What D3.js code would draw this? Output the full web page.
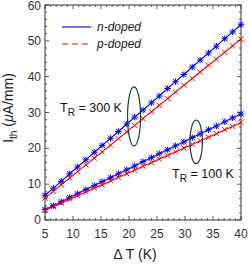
<!DOCTYPE html>
<html>
<head>
<meta charset="utf-8">
<script src="https://cdn.jsdelivr.net/npm/d3@7"></script>
<style>
  body { margin: 0; background: #fff; }
  text { font-family: "Liberation Sans", Arial, sans-serif; }
</style>
</head>
<body>
<svg width="249" height="264"></svg>
<script>
// data
const deltaT = [5, 6.5, 7.9, 9.4, 10.8, 12.3, 13.8, 15.2, 16.7, 18.1, 19.6, 21, 22.5,
  24, 25.4, 26.9, 28.3, 29.8, 31.3, 32.7, 34.2, 35.6, 37.1, 38.5, 40];
const n300 = [6.9, 8.9, 10.8, 12.9, 14.8, 16.8, 18.9, 20.8, 22.8, 24.7, 26.8, 28.7, 30.7,
  32.7, 34.6, 36.7, 38.6, 40.6, 42.7, 44.6, 46.6, 48.5, 50.6, 52.5, 54.5];
const p300 = [6.1, 8.0, 9.8, 11.7, 13.5, 15.4, 17.3, 19.0, 20.9, 22.7, 24.6, 26.4, 28.3,
  30.2, 32.0, 33.9, 35.7, 37.6, 39.5, 41.3, 43.2, 44.9, 46.8, 48.6, 50.5];
const n100 = [2.9, 4.0, 5.1, 6.3, 7.3, 8.5, 9.6, 10.7, 11.8, 12.9, 14.0, 15.1, 16.3,
  17.4, 18.5, 19.6, 20.7, 21.8, 23.0, 24.0, 25.2, 26.2, 27.4, 28.5, 29.6];
const p100 = [2.7, 3.8, 4.7, 5.8, 6.8, 7.8, 8.9, 9.8, 10.9, 11.9, 12.9, 13.9, 15.0,
  16.0, 17.0, 18.0, 19.0, 20.1, 21.1, 22.1, 23.1, 24.1, 25.2, 26.1, 27.2];
const xTicks = [5, 10, 15, 20, 25, 30, 35, 40];
const yTicks = [0, 10, 20, 30, 40, 50, 60];

const margin = {left: 45, right: 8, top: 5, bottom: 44};
const width = 249, height = 264;
const svg = d3.select("svg");

const x = d3.scaleLinear().domain([5, 40]).range([margin.left, width - margin.right]);
const y = d3.scaleLinear().domain([0, 60]).range([height - margin.bottom, margin.top]);

const axisColor = "#333";

// frame
svg.append("rect")
  .attr("x", x(5)).attr("y", y(60))
  .attr("width", x(40) - x(5)).attr("height", y(0) - y(60))
  .attr("fill", "none").attr("stroke", axisColor).attr("stroke-width", 1);

// minor + major ticks, pointing inward on all four sides
const xMinor = d3.range(5, 40.01, 1);
const yMinor = d3.range(0, 60.01, 2);
const tickG = svg.append("g").attr("stroke", axisColor).attr("stroke-width", 0.8);
xMinor.forEach(v => {
  let len = xTicks.includes(v) ? 4 : 2;
  tickG.append("line").attr("x1", x(v)).attr("x2", x(v)).attr("y1", y(0)).attr("y2", y(0) - len);
  tickG.append("line").attr("x1", x(v)).attr("x2", x(v)).attr("y1", y(60)).attr("y2", y(60) + len);
});
yMinor.forEach(v => {
  let len = yTicks.includes(v) ? 4 : 2;
  tickG.append("line").attr("x1", x(5)).attr("x2", x(5) + len).attr("y1", y(v)).attr("y2", y(v));
  tickG.append("line").attr("x1", x(40)).attr("x2", x(40) - len).attr("y1", y(v)).attr("y2", y(v));
});

// tick labels
svg.append("g").selectAll("text")
  .data(xTicks).join("text")
  .attr("x", d => x(d)).attr("y", y(0) + 18)
  .attr("text-anchor", "middle").attr("font-size", 12).attr("fill", "#333")
  .text(d => d);
svg.append("g").selectAll("text")
  .data(yTicks).join("text")
  .attr("x", x(5) - 4).attr("y", d => Math.max(y(d) + 4, 10))
  .attr("text-anchor", "end").attr("font-size", 12).attr("fill", "#333")
  .text(d => d);

// axis titles
svg.append("text")
  .attr("x", 135).attr("y", 259)
  .attr("text-anchor", "middle").attr("font-size", 14).attr("fill", "#222")
  .text("\u0394 T (K)");

const yl = svg.append("text")
  .attr("transform", "translate(13, 108) rotate(-90)")
  .attr("text-anchor", "middle").attr("font-size", 14).attr("fill", "#222");
yl.append("tspan").text("I");
yl.append("tspan").attr("font-size", 10).attr("dy", 4).text("th");
yl.append("tspan").attr("dy", -4).text(" (");
yl.append("tspan").attr("font-style", "italic").text("\u03bc");
yl.append("tspan").text("A/mm)");

// series
const series = [
  {vals: n300, color: "#0000ff", marker: "star"},
  {vals: p300, color: "#ff0000", marker: "x"},
  {vals: n100, color: "#0000ff", marker: "star"},
  {vals: p100, color: "#ff0000", marker: "x"}
];

const line = d3.line().x(d => x(d[0])).y(d => y(d[1]));

series.forEach(s => {
  const pts = deltaT.map((t, i) => [t, s.vals[i]]);
  svg.append("path")
    .datum(pts)
    .attr("d", line)
    .attr("fill", "none")
    .attr("stroke", s.color)
    .attr("stroke-width", 1.1);
  const mg = svg.append("g").attr("stroke", s.color).attr("stroke-width", 1);
  pts.forEach(p => {
    const cx = x(p[0]), cy = y(p[1]);
    const r = 2.6;
    mg.append("line").attr("x1", cx - r).attr("y1", cy - r).attr("x2", cx + r).attr("y2", cy + r);
    mg.append("line").attr("x1", cx - r).attr("y1", cy + r).attr("x2", cx + r).attr("y2", cy - r);
    if (s.marker === "star") {
      mg.append("line").attr("x1", cx - 3.2).attr("y1", cy).attr("x2", cx + 3.2).attr("y2", cy);
      mg.append("line").attr("x1", cx).attr("y1", cy - 3.2).attr("x2", cx).attr("y2", cy + 3.2);
    }
  });
});

// ellipses around the curve pairs
const ellipses = [
  {cx: 20.9, cy: 28.9, rx: 6.5, ry: 29.5},
  {cx: 32.0, cy: 21.8, rx: 6.3, ry: 21.7}
];
svg.append("g").selectAll("ellipse")
  .data(ellipses).join("ellipse")
  .attr("cx", d => x(d.cx)).attr("cy", d => y(d.cy))
  .attr("rx", d => d.rx).attr("ry", d => d.ry)
  .attr("fill", "none").attr("stroke", "#1f3f2f").attr("stroke-width", 1.2);

// T_R annotations
const notes = [
  {t: 7.7, v: 30.2, label: "300"},
  {t: 27.7, v: 11.7, label: "100"}
];
notes.forEach(n => {
  const tx = svg.append("text")
    .attr("x", x(n.t)).attr("y", y(n.v))
    .attr("font-size", 12.5).attr("fill", "#111");
  tx.append("tspan").text("T");
  tx.append("tspan").attr("font-size", 10).attr("dy", 4).text("R");
  tx.append("tspan").attr("dy", -4).text(" = " + n.label + " K");
});

// legend
const legend = [
  {label: "n-doped", color: "#0000ff", dash: null, yy: 27},
  {label: "p-doped", color: "#ff0000", dash: "6,4", yy: 44}
];
legend.forEach(l => {
  svg.append("line")
    .attr("x1", 62).attr("x2", 91).attr("y1", l.yy).attr("y2", l.yy)
    .attr("stroke", l.color).attr("stroke-width", 1.1)
    .attr("stroke-dasharray", l.dash);
  svg.append("text")
    .attr("x", 97).attr("y", l.yy + 4)
    .attr("font-size", 12).attr("font-style", "italic").attr("fill", "#222")
    .text(l.label);
});
</script>
</body>
</html>
